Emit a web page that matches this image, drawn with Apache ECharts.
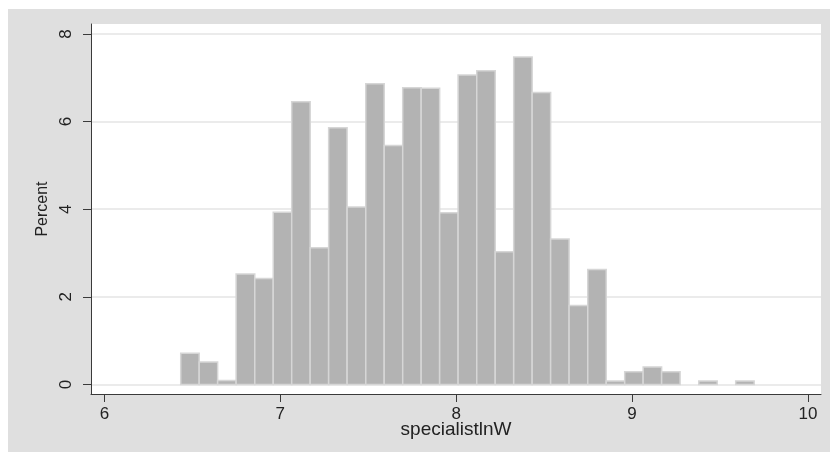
<!DOCTYPE html>
<html>
<head>
<meta charset="utf-8">
<script src="https://cdn.jsdelivr.net/npm/echarts@6/dist/echarts.min.js"></script>
<style>
html,body{margin:0;padding:0;background:#fff;}
#chart{width:830px;height:452px;}
</style>
</head>
<body>
<div id="chart"></div>
<script>
// Histogram bin edges (31 bins)
const binEdges = [6.434, 6.539, 6.644, 6.749, 6.855, 6.960, 7.065, 7.170, 7.275, 7.380,
  7.486, 7.591, 7.696, 7.801, 7.906, 8.011, 8.117, 8.222, 8.327, 8.432,
  8.537, 8.642, 8.748, 8.853, 8.958, 9.063, 9.168, 9.273, 9.379, 9.484,
  9.589, 9.694];
// Percent per bin
const percents = [0.71, 0.51, 0.09, 2.52, 2.42, 3.93, 6.45, 3.12, 5.86, 4.05,
  6.86, 5.45, 6.77, 6.76, 3.92, 7.06, 7.16, 3.03, 7.47, 6.66,
  3.32, 1.80, 2.62, 0.08, 0.29, 0.40, 0.29, 0, 0.08, 0,
  0.08];
const xTicks = [6, 7, 8, 9, 10];
const yTicks = [0, 2, 4, 6, 8];
const xTitle = 'specialistlnW';
const yTitle = 'Percent';

const data = percents.map((p, i) => [binEdges[i], binEdges[i + 1], p]);

const chart = echarts.init(document.getElementById('chart'), null, {renderer: 'canvas'});
const font = '"Liberation Sans", Arial, Helvetica, sans-serif';
chart.setOption({
  animation: false,
  backgroundColor: '#ffffff',
  graphic: [{
    type: 'rect', z: -10, silent: true,
    shape: {x: 8, y: 9, width: 822, height: 443},
    style: {fill: '#dfdfdf'}
  }],
  grid: {
    left: 91, right: 9, top: 24, bottom: 58,
    show: true, backgroundColor: '#ffffff', borderWidth: 0
  },
  xAxis: {
    type: 'value', min: 5.924, max: 10.074,
    name: xTitle, nameLocation: 'middle', nameGap: 26, nameMoveOverlap: false,
    nameTextStyle: {fontFamily: font, fontSize: 19, color: '#222'},
    axisLine: {show: true, onZero: false, lineStyle: {color: '#3a3a3a', width: 1}},
    axisTick: {show: true, length: 8, customValues: xTicks, lineStyle: {color: '#3a3a3a'}},
    axisLabel: {customValues: xTicks, margin: 12, fontFamily: font, fontSize: 17, color: '#222'},
    splitLine: {show: false}
  },
  yAxis: {
    type: 'value', min: -0.219, max: 8.226,
    name: yTitle, nameLocation: 'middle', nameRotate: 90, nameGap: 38,
    nameTextStyle: {fontFamily: font, fontSize: 16, color: '#222'},
    axisLine: {show: true, onZero: false, lineStyle: {color: '#3a3a3a', width: 1}},
    axisTick: {show: true, length: 8, customValues: yTicks, lineStyle: {color: '#3a3a3a'}},
    axisLabel: {customValues: yTicks, rotate: 90, margin: 16, fontFamily: font, fontSize: 17, color: '#222'},
    splitLine: {show: true, lineStyle: {color: '#e4e4e4', width: 1.5}}
  },
  series: [{
    type: 'custom',
    data: data,
    encode: {x: [0, 1], y: 2},
    renderItem: function (params, api) {
      const h = api.value(2);
      if (!h) return null;
      const p0 = api.coord([api.value(0), h]);
      const p1 = api.coord([api.value(1), 0]);
      return {
        type: 'rect',
        shape: {x: p0[0], y: p0[1], width: p1[0] - p0[0], height: p1[1] - p0[1]},
        style: {fill: '#b3b3b3', stroke: '#d6d6d6', lineWidth: 1.5}
      };
    }
  }]
});
</script>
</body>
</html>
